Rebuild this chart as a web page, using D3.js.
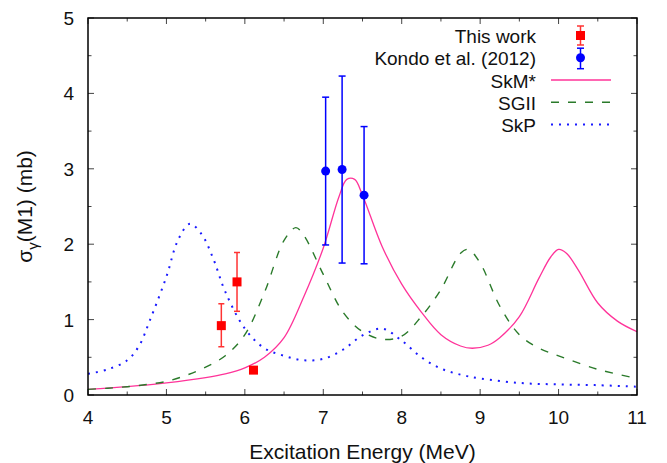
<!DOCTYPE html>
<html>
<head>
<meta charset="utf-8">
<script src="https://cdn.jsdelivr.net/npm/d3@7"></script>
<style>
body { margin: 0; background: #fff; }
text { font-family: "Liberation Sans", Arial, sans-serif; fill: #111; }
</style>
</head>
<body>
<script>
// data
const thisWork = [
    { e: 5.70, v: 0.92, lo: 0.64, hi: 1.21 },
    { e: 5.90, v: 1.50, lo: 1.11, hi: 1.89 },
    { e: 6.11, v: 0.33, lo: 0.29, hi: 0.37 }
];
const kondo = [
    { e: 7.03, v: 2.97, lo: 1.99, hi: 3.95 },
    { e: 7.24, v: 2.99, lo: 1.75, hi: 4.23 },
    { e: 7.52, v: 2.65, lo: 1.74, hi: 3.56 }
];

const skmE = [4.0, 4.5, 5.0, 5.5, 5.75, 6.0, 6.25, 6.5, 6.75, 7.0, 7.2, 7.3, 7.4, 7.5, 7.75, 8.0, 8.25, 8.5, 8.75, 8.9, 9.1, 9.25, 9.5, 9.75, 9.9, 10.0, 10.1, 10.25, 10.5, 10.75, 11.0];
const skmV = [0.075, 0.11, 0.16, 0.23, 0.28, 0.36, 0.50, 0.76, 1.30, 1.95, 2.63, 2.86, 2.86, 2.65, 1.97, 1.47, 1.10, 0.80, 0.65, 0.62, 0.66, 0.76, 1.04, 1.55, 1.83, 1.93, 1.88, 1.66, 1.22, 0.98, 0.84];

const sgiiE = [4.0, 4.25, 4.5, 4.75, 5.0, 5.25, 5.5, 5.75, 6.0, 6.25, 6.5, 6.65, 6.75, 7.0, 7.25, 7.5, 7.75, 8.0, 8.25, 8.5, 8.75, 8.85, 9.0, 9.25, 9.5, 9.75, 10.0, 10.5, 11.0];
const sgiiV = [0.075, 0.09, 0.11, 0.14, 0.18, 0.26, 0.37, 0.52, 0.80, 1.36, 2.05, 2.22, 2.12, 1.60, 1.10, 0.84, 0.74, 0.78, 1.04, 1.40, 1.88, 1.93, 1.75, 1.18, 0.80, 0.62, 0.52, 0.34, 0.22];

const skpE = [4.0, 4.25, 4.5, 4.65, 4.8, 5.0, 5.15, 5.3, 5.45, 5.6, 5.75, 6.0, 6.25, 6.5, 6.75, 7.0, 7.25, 7.5, 7.75, 8.0, 8.25, 8.5, 8.75, 9.0, 9.5, 10.0, 10.5, 11.0];
const skpV = [0.28, 0.34, 0.46, 0.65, 1.02, 1.57, 2.06, 2.27, 2.13, 1.80, 1.37, 0.88, 0.62, 0.52, 0.46, 0.48, 0.60, 0.79, 0.88, 0.72, 0.50, 0.35, 0.27, 0.22, 0.16, 0.14, 0.13, 0.11];

const xTicks = [4, 5, 6, 7, 8, 9, 10, 11];
const yTicks = [0, 1, 2, 3, 4, 5];

const W = 667, H = 463;
const m = { left: 88, right: 637, top: 18, bottom: 395 };

const svg = d3.select('body').append('svg')
    .attr('width', W)
    .attr('height', H);

const x = d3.scaleLinear().domain([4, 11]).range([m.left, m.right]);
const y = d3.scaleLinear().domain([0, 5]).range([m.bottom, m.top]);

// ticks on all four sides, pointing inward
const minorX = d3.range(4, 11.01, 0.5).filter(v => v % 1 !== 0);
const minorY = d3.range(0, 5.01, 0.5).filter(v => v % 1 !== 0);

const ticks = svg.append('g').attr('stroke', '#444').attr('stroke-width', 1);
xTicks.concat(minorX).forEach(v => {
    const len = xTicks.includes(v) ? 6 : 3.5;
    ticks.append('line').attr('x1', x(v)).attr('x2', x(v)).attr('y1', m.bottom).attr('y2', m.bottom - len);
    ticks.append('line').attr('x1', x(v)).attr('x2', x(v)).attr('y1', m.top).attr('y2', m.top + len);
});
yTicks.concat(minorY).forEach(v => {
    const len = yTicks.includes(v) ? 6 : 3.5;
    ticks.append('line').attr('y1', y(v)).attr('y2', y(v)).attr('x1', m.left).attr('x2', m.left + len);
    ticks.append('line').attr('y1', y(v)).attr('y2', y(v)).attr('x1', m.right).attr('x2', m.right - len);
});

svg.selectAll('.xl').data(xTicks).enter().append('text')
    .attr('x', d => x(d)).attr('y', 424)
    .attr('text-anchor', 'middle')
    .style('font-size', '19px')
    .text(d => d);

svg.selectAll('.yl').data(yTicks).enter().append('text')
    .attr('x', 74).attr('y', d => y(d) + 7)
    .attr('text-anchor', 'end')
    .style('font-size', '19px')
    .text(d => d);

svg.append('text')
    .attr('x', (m.left + m.right) / 2).attr('y', 459)
    .attr('text-anchor', 'middle')
    .style('font-size', '21px')
    .text('Excitation Energy (MeV)');

const yl = svg.append('text')
    .attr('transform', 'translate(32,' + ((m.top + m.bottom) / 2) + ') rotate(-90)')
    .attr('text-anchor', 'middle')
    .style('font-size', '21px');
yl.append('tspan').text('σ');
yl.append('tspan').attr('dy', 6).style('font-size', '15px').text('γ');
yl.append('tspan').attr('dy', -6).text('(M1) (mb)');

// model curves
svg.append('clipPath').attr('id', 'plot')
    .append('rect').attr('x', m.left).attr('y', m.top)
    .attr('width', m.right - m.left).attr('height', m.bottom - m.top);

const line = d3.line()
    .x(d => x(d[0]))
    .y(d => y(d[1]))
    .curve(d3.curveCatmullRom.alpha(0.5));

const curves = [
    { name: 'SkM*', e: skmE, v: skmV, color: '#ff3399', dash: null, w: 1.3 },
    { name: 'SGII', e: sgiiE, v: sgiiV, color: '#2a7a2a', dash: '8,9', w: 1.4 },
    { name: 'SkP', e: skpE, v: skpV, color: '#1a1aff', dash: '2,6', w: 2 }
];

const cg = svg.append('g').attr('clip-path', 'url(#plot)');
curves.forEach(c => {
    cg.append('path')
        .attr('d', line(c.e.map((e, i) => [e, c.v[i]])))
        .attr('fill', 'none')
        .attr('stroke', c.color)
        .attr('stroke-width', c.w)
        .attr('stroke-dasharray', c.dash);
});

// data with error bars
function errBar(g, px, lo, hi, color, cap) {
    g.append('line').attr('x1', px).attr('x2', px).attr('y1', lo).attr('y2', hi)
        .attr('stroke', color).attr('stroke-width', 1.5);
    [lo, hi].forEach(py => {
        g.append('line').attr('x1', px - cap).attr('x2', px + cap).attr('y1', py).attr('y2', py)
            .attr('stroke', color).attr('stroke-width', 1.5);
    });
}

const pts = svg.append('g');
thisWork.forEach(d => {
    errBar(pts, x(d.e), y(d.lo), y(d.hi), '#f33', 3);
    pts.append('rect').attr('x', x(d.e) - 4.5).attr('y', y(d.v) - 4.5)
        .attr('width', 9).attr('height', 9).attr('fill', '#ff0000');
});
kondo.forEach(d => {
    errBar(pts, x(d.e), y(d.lo), y(d.hi), '#0000ff', 3.5);
    pts.append('circle').attr('cx', x(d.e)).attr('cy', y(d.v)).attr('r', 4.5).attr('fill', '#0000ff');
});

// legend
const leg = svg.append('g');
const rowY = [35.5, 57.7, 80, 102.3, 124.6];
const labels = ['This work', 'Kondo et al. (2012)', 'SkM*', 'SGII', 'SkP'];
labels.forEach((t, i) => {
    leg.append('text').attr('x', 536).attr('y', rowY[i] + 7.5)
        .attr('text-anchor', 'end')
        .style('font-size', '19px')
        .text(t);
});
errBar(leg, 580.5, rowY[0] + 9.5, rowY[0] - 9.5, '#f33', 3.5);
leg.append('rect').attr('x', 576).attr('y', rowY[0] - 4.5).attr('width', 9).attr('height', 9).attr('fill', '#ff0000');
errBar(leg, 580.5, rowY[1] + 11, rowY[1] - 9.5, '#0000ff', 3.5);
leg.append('circle').attr('cx', 580.5).attr('cy', rowY[1]).attr('r', 4.5).attr('fill', '#0000ff');
curves.forEach((c, i) => {
    leg.append('line')
        .attr('x1', 551).attr('x2', 611)
        .attr('y1', rowY[i + 2]).attr('y2', rowY[i + 2])
        .attr('stroke', c.color)
        .attr('stroke-width', c.w)
        .attr('stroke-dasharray', c.dash);
});

// frame
svg.append('rect')
    .attr('x', m.left).attr('y', m.top)
    .attr('width', m.right - m.left).attr('height', m.bottom - m.top)
    .attr('fill', 'none').attr('stroke', '#000').attr('stroke-width', 1.5);
</script>
</body>
</html>
